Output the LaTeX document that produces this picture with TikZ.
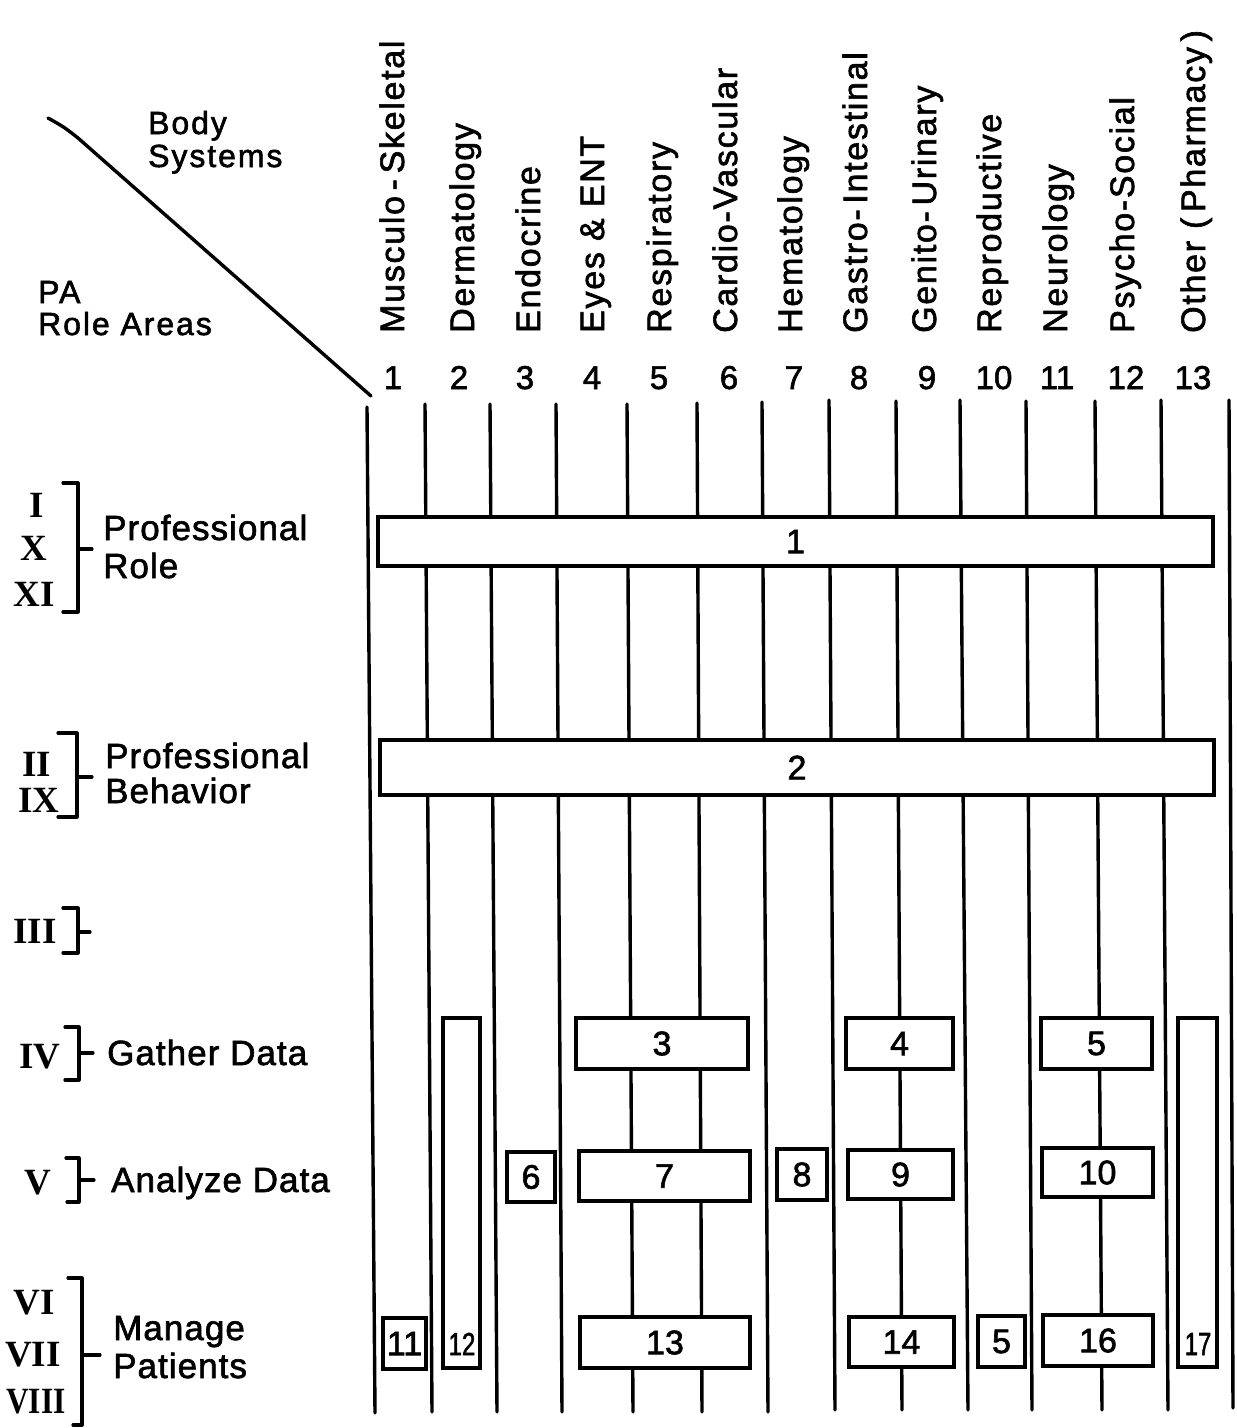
\documentclass[tikz,border=0pt]{standalone}
\usepackage{fontspec}
\setmainfont{Liberation Sans}[FakeBold=1.8]
\newfontfamily\hdfont[LetterSpace=6,FakeBold=1.8]{Liberation Sans}
\newfontfamily\colfont[LetterSpace=5,FakeBold=1.8]{Liberation Sans}
\newfontfamily\rowfont[LetterSpace=3,FakeBold=1.8]{Liberation Sans}
\newfontfamily\romfont{Liberation Serif}
\newcommand\mybox[6]{\node[boxn, minimum width=#4pt-#2pt, minimum height=#5pt-#3pt] (#1) at ({(#2+#4)/2},{(#3+#5)/2}) {#6};}
\begin{document}
\begin{tikzpicture}[x=1pt,y=-1pt,
  gridl/.style={line width=3.4pt, line cap=round},
  boxn/.style={draw, line width=3.2pt, fill=white, inner sep=0pt, outer sep=0pt, font=\fontsize{34}{38}\selectfont},
  hd/.style={inner sep=0pt, anchor=base west, font=\hdfont\fontsize{32}{36}\selectfont},
  colhd/.style={inner sep=0pt, anchor=base west, rotate=90, font=\colfont\fontsize{34}{38}\selectfont},
  colnum/.style={inner sep=0pt, anchor=base, font=\fontsize{33}{36}\selectfont},
  rowlab/.style={inner sep=0pt, anchor=base west, font=\rowfont\fontsize{35}{38}\selectfont},
  roman/.style={inner sep=0pt, font=\romfont\bfseries\fontsize{37}{40}\selectfont},
  smallnum/.style={inner sep=0pt, font=\fontsize{32}{36}\selectfont},
  brk/.style={line width=3.2pt, line cap=round, line join=round}
]
\fill[white] (0,0) rectangle (1237,1428);
\useasboundingbox (0,0) rectangle (1237,1428);

% header corner
\coordinate (d0) at (48,118);
\coordinate (d1) at (78,138);
\coordinate (d2) at (371,396);
\draw[line width=3.4pt, line cap=round, line join=round] (d0) .. controls (64,127) .. (d1) -- (d2);
\node[hd] (body) at (148,134) {Body};
\node[hd] (systems) at (148,167) {Systems};
\node[hd] (pa) at (38,303) {PA};
\node[hd] (roleareas) at (38,335) {Role Areas};

% column headers
\node[colhd] (h1) at (404,333) {Musculo\,-\,Skeletal};
\node[colhd] (h2) at (474,333) {Dermatology};
\node[colhd] (h3) at (540,333) {Endocrine};
\node[colhd] (h4) at (604,333) {Eyes \& ENT};
\node[colhd] (h5) at (671,333) {Respiratory};
\node[colhd] (h6) at (737,333) {Cardio-Vascular};
\node[colhd] (h7) at (802,333) {Hematology};
\node[colhd] (h8) at (867,333) {Gastro-\,Intestinal};
\node[colhd] (h9) at (936,333) {Genito-\,Urinary};
\node[colhd] (h10) at (1001,333) {Reproductive};
\node[colhd] (h11) at (1067,333) {Neurology};
\node[colhd] (h12) at (1134,333) {Psycho-Social};
\node[colhd] (h13) at (1205,333) {Other\hspace{12pt}(\,Pharmacy\,)};

% column numbers
\foreach \n/\x in {1/393,2/459,3/525,4/592,5/659,6/729,7/794,8/859,9/927,10/994,11/1057,12/1126,13/1193}
  \node[colnum] (n\n) at (\x,389) {\n};

% vertical lines
\foreach \i/\xa/\ya/\xb/\yb in {0/367/407/375/1413, 1/425/404/432/1412, 2/490/404/497/1412,
  3/556/404/562/1412, 4/627/404/633/1412, 5/697/403/702/1412, 6/762/402/768/1412,
  7/829/400/835/1410, 8/896/401/902/1410, 9/960/400/968/1410, 10/1026/401/1032/1410,
  11/1095/401/1102/1410, 12/1161/400/1168/1410, 13/1229/400/1233/1408}
{
  \coordinate (t\i) at (\xa,\ya);
  \coordinate (u\i) at (\xb,\yb);
  \draw[gridl] (t\i) -- (u\i);
}

% boxes
\mybox{b1}{378}{517}{1213}{566}{1}
\mybox{b2}{380}{740}{1214}{795}{2}
\mybox{b3}{576}{1018}{748}{1069}{3}
\mybox{b4}{846}{1018}{953}{1069}{4}
\mybox{b5}{1041}{1018}{1152}{1069}{5}
\mybox{b12}{443}{1018}{480}{1368}{}
\mybox{b17}{1178}{1018}{1217}{1367}{}
\mybox{b6}{507}{1152}{555}{1202}{6}
\mybox{b7}{579}{1151}{750}{1201}{7}
\mybox{b8}{777}{1149}{827}{1200}{8}
\mybox{b9}{848}{1150}{953}{1199}{9}
\mybox{b10}{1042}{1148}{1153}{1197}{10}
\mybox{b11}{383}{1318}{426}{1369}{11}
\mybox{b13}{580}{1317}{750}{1368}{13}
\mybox{b14}{849}{1317}{954}{1367}{14}
\mybox{b15}{978}{1316}{1025}{1367}{5}
\mybox{b16}{1043}{1315}{1153}{1366}{16}
\node[smallnum, xscale=0.75] (l12) at (462,1344) {12};
\node[smallnum, xscale=0.75] (l17) at (1198,1344) {17};

% row labels: roman numerals
\node[roman] (r1) at (37,505) {I};
\node[roman] (r10) at (34,548) {X};
\node[roman] (r11) at (34,594) {XI};
\node[roman] (r2) at (37,764) {II};
\node[roman] (r9) at (39,800) {IX};
\node[roman] (r3) at (35,931) {III};
\node[roman] (r4) at (40,1057) {IV};
\node[roman] (r5) at (38,1183) {V};
\node[roman] (r6) at (34,1303) {VI};
\node[roman] (r7) at (33,1355) {VII};
\node[roman, xscale=0.85] (r8) at (36,1402) {VIII};

% brackets
\draw[brk] (63,483) -- (78,483) -- (78,612) -- (63,612);
\draw[brk] (78,549) -- (92,549);
\draw[brk] (58,733) -- (77,733) -- (77,817) -- (58,817);
\draw[brk] (77,777) -- (92,777);
\draw[brk] (63,908) -- (78,908) -- (78,953) -- (63,953);
\draw[brk] (78,932) -- (90,932);
\draw[brk] (65,1027) -- (79,1027) -- (79,1080) -- (65,1080);
\draw[brk] (79,1053) -- (93,1053);
\draw[brk] (66,1158) -- (79,1158) -- (79,1202) -- (67,1202);
\draw[brk] (79,1180) -- (94,1180);
\draw[brk] (68,1278) -- (82,1278) -- (82,1425) -- (73,1425);
\draw[brk] (82,1355) -- (100,1355);

% row label texts
\node[rowlab] (pr1) at (103,540) {Professional};
\node[rowlab] (role) at (103,578) {Role};
\node[rowlab] (pr2) at (105,768) {Professional};
\node[rowlab] (behav) at (105,803) {Behavior};
\node[rowlab] (gather) at (107,1065) {Gather Data};
\node[rowlab] (analyze) at (111,1192) {Analyze Data};
\node[rowlab] (manage) at (113,1340) {Manage};
\node[rowlab] (patients) at (113,1378) {Patients};
\end{tikzpicture}
\end{document}
